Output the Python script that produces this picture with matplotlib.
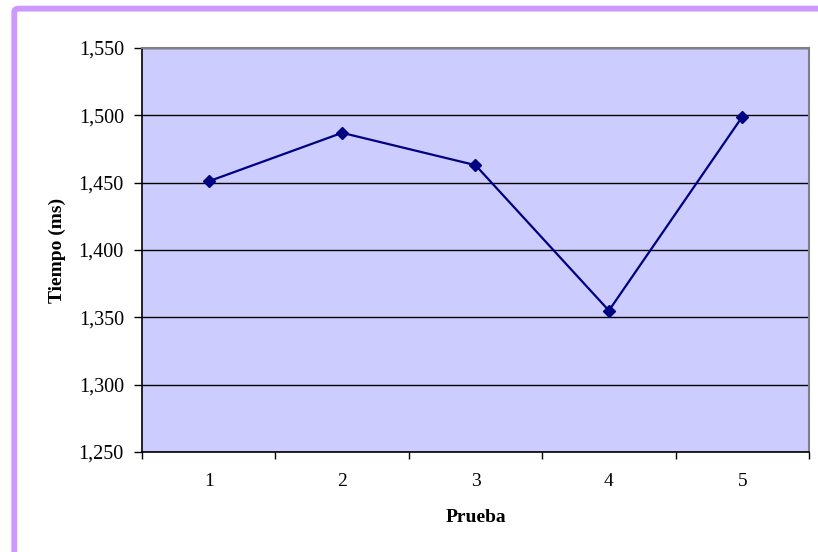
import matplotlib
matplotlib.use("Agg")
import matplotlib.pyplot as plt
from matplotlib.patches import FancyBboxPatch

# ── datos ────────────────────────────────────────────────
pruebas = [1, 2, 3, 4, 5]
tiempos = [1451, 1487, 1463, 1355, 1499]
y_ticks = [1250, 1300, 1350, 1400, 1450, 1500, 1550]

plt.rcParams["font.family"] = ["Liberation Serif", "DejaVu Serif"]

W, H = 818, 552
fig = plt.figure(figsize=(W / 100, H / 100), dpi=100)

# marco morado (solo se ven borde izquierdo y superior)
frame = FancyBboxPatch((14.3 / W, -0.2), 1.2, 1.2 - 8.6 / H,
                       boxstyle="round,pad=0,rounding_size=0.006",
                       transform=fig.transFigure, fill=False,
                       edgecolor="#CC99FF", linewidth=4.2, zorder=0)
fig.patches.append(frame)

ax = fig.add_axes([142 / W, 1 - 452 / H, (809 - 142) / W, (452 - 48) / H])
ax.set_facecolor("#CCCCFF")

ax.plot(pruebas, tiempos, color="#000080", linewidth=1.6,
        marker="D", markersize=6.5, zorder=3)

ax.set_ylim(1250, 1550)
ax.set_yticks(y_ticks)
ax.set_yticklabels([f"{v:,}" for v in y_ticks], fontsize=14.5)
ax.yaxis.grid(True, color="black", linewidth=1.0)
ax.set_axisbelow(True)

ax.set_xlim(0.5, 5.5)
ax.set_xticks([p - 0.5 for p in pruebas] + [5.5])
ax.set_xticklabels([])
ax.set_xticks(pruebas, minor=True)
ax.set_xticklabels([str(p) for p in pruebas], minor=True, fontsize=14)
ax.tick_params(axis="x", which="minor", length=0, pad=15)
ax.tick_params(axis="x", which="major", length=5, width=1, direction="out")
ax.tick_params(axis="y", length=6, width=1, direction="out", pad=7)

for s in ["top", "right"]:
    ax.spines[s].set_color("#808080")
    ax.spines[s].set_linewidth(1.5)
for s in ["left", "bottom"]:
    ax.spines[s].set_color("black")
    ax.spines[s].set_linewidth(1.2)

ax.set_xlabel("Prueba", fontsize=14, fontweight="bold", labelpad=14)
ax.set_ylabel("Tiempo (ms)", fontsize=14, fontweight="bold", labelpad=9)

plt.savefig("out.png", dpi=100)
